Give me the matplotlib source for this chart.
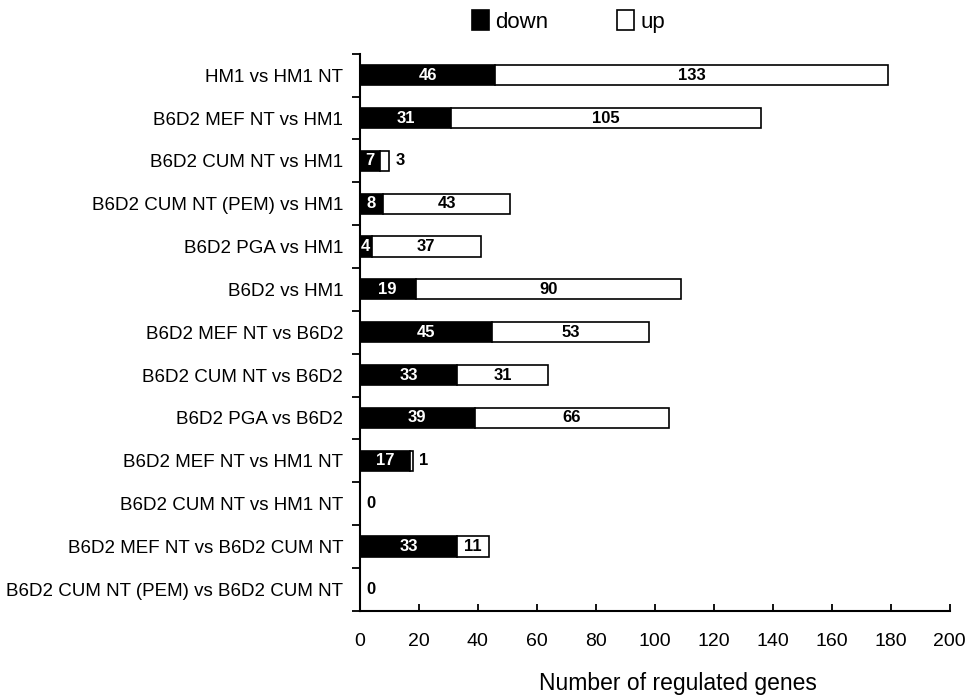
import matplotlib
matplotlib.use("Agg")
import matplotlib.pyplot as plt
import numpy as np

plt.rcParams['font.family'] = ['Liberation Sans', 'DejaVu Sans']

categories = [
    "HM1 vs HM1 NT",
    "B6D2 MEF NT vs HM1",
    "B6D2 CUM NT vs HM1",
    "B6D2 CUM NT (PEM) vs HM1",
    "B6D2 PGA vs HM1",
    "B6D2 vs HM1",
    "B6D2 MEF NT vs B6D2",
    "B6D2 CUM NT vs B6D2",
    "B6D2 PGA vs B6D2",
    "B6D2 MEF NT vs HM1 NT",
    "B6D2 CUM NT vs HM1 NT",
    "B6D2 MEF NT vs B6D2 CUM NT",
    "B6D2 CUM NT (PEM) vs B6D2 CUM NT",
]
down = [46, 31, 7, 8, 4, 19, 45, 33, 39, 17, 0, 33, 0]
up = [133, 105, 3, 43, 37, 90, 53, 31, 66, 1, 0, 11, 0]
xticks = [0, 20, 40, 60, 80, 100, 120, 140, 160, 180, 200]

fig = plt.figure(figsize=(9.67, 6.98), dpi=100)
ax = fig.add_axes([0.372, 0.125, 0.61, 0.798])

y = np.arange(len(categories))
h = 0.47
ax.barh(y, down, height=h, color='black', edgecolor='black', linewidth=1.2,
        label='down')
ax.barh(y, up, left=down, height=h, color='white', edgecolor='black',
        linewidth=1.2, label='up')

for i in range(len(categories)):
    d, u = down[i], up[i]
    if d > 0:
        ax.text(d / 2, i, str(d), color='white', ha='center', va='center',
                fontsize=12, fontweight='bold')
    if u >= 5:
        ax.text(d + u / 2, i, str(u), color='black', ha='center',
                va='center', fontsize=12, fontweight='bold')
    else:
        ax.text(d + u + 2.2, i, str(u), color='black', ha='left',
                va='center', fontsize=12, fontweight='bold')

ax.set_ylim(len(categories) - 0.5, -0.5)
ax.set_xlim(0, 200)
ax.set_yticks(y)
ax.set_yticklabels(categories, fontsize=13.5)
ax.set_yticks(np.arange(-0.5, len(categories), 1.0), minor=True)
ax.tick_params(axis='y', which='major', length=0, pad=12)
ax.tick_params(axis='y', which='minor', length=6, width=1.3, direction='out')
ax.set_xticks(xticks)
ax.set_xticklabels([str(t) for t in xticks], fontsize=14)
ax.tick_params(axis='x', direction='in', length=5, width=1.3, pad=16)
ax.set_xlabel("Number of regulated genes", fontsize=16.5)
ax.xaxis.set_label_coords(0.539, -0.13)
ax.xaxis.label.set_va('center')

for s in ['top', 'right']:
    ax.spines[s].set_visible(False)
for s in ['left', 'bottom']:
    ax.spines[s].set_linewidth(1.5)

ax.legend(loc='center', bbox_to_anchor=(0.588, 0.969),
          bbox_transform=fig.transFigure, ncol=2,
          frameon=False, fontsize=16, handlelength=0.75, handleheight=1.0,
          columnspacing=3.1, handletextpad=0.3)

fig.savefig("out.png", dpi=100)
